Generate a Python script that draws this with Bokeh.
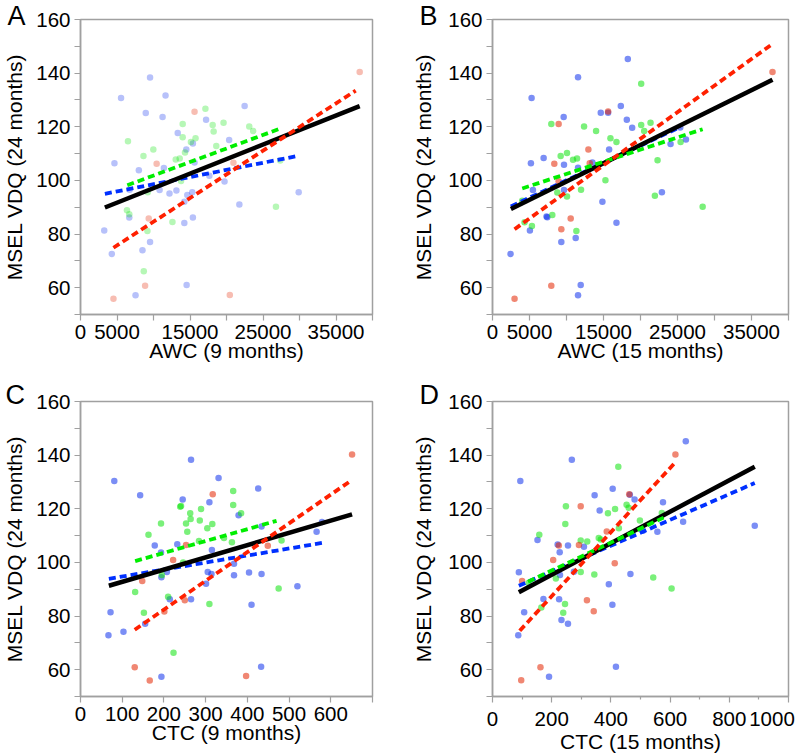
from bokeh.plotting import figure
from bokeh.models import Range1d, FixedTicker, NumeralTickFormatter
from bokeh.layouts import column, row
from bokeh.embed import file_html
from bokeh.resources import INLINE

FONT = "Liberation Sans"

# ---------------- data ----------------
y_ticks = [60, 80, 100, 120, 140, 160]
y_minor = [50, 70, 90, 110, 130, 150]

# Panel A: AWC (9 months)
a_blue_x = [9527, 5554, 11649, 8940, 11243, 22485, 17201, 13319, 20363, 15396, 14493, 4650, 7992, 11423,
            15622, 17653, 19730, 10836, 12190, 13138, 14628, 15306, 29889, 21762, 14222, 6682, 15396,
            14222, 3251, 9527, 8488, 4289, 14538, 7540, 6728]
a_blue_y = [138.4, 130.7, 131.7, 125.1, 123.6, 127.7, 122.6, 117.7, 115.1, 113.8, 111.5, 106.4, 103.8, 104.6,
            106.7, 101.7, 99.6, 96.4, 95.1, 96.2, 94.6, 95.6, 95.6, 91.0, 92.0, 86.2, 86.2,
            84.1, 81.3, 77.0, 74.0, 72.6, 61.0, 57.2, 96.5]
a_green_x = [17111, 13997, 18104, 19594, 18239, 23117, 23659, 13997, 15757, 15125, 6502, 9978, 18601,
             14313, 8624, 13590, 13048, 27361, 13771, 9211, 6367, 6682, 12596, 9166, 26774, 8669]
a_green_y = [126.7, 121.0, 120.7, 121.5, 118.2, 120.1, 118.4, 116.1, 115.7, 114.3, 114.6, 111.5, 112.8,
             110.4, 109.1, 108.2, 107.8, 107.4, 99.8, 95.6, 88.9, 87.4, 84.5, 81.1, 90.2, 66.1]
a_red_x = [38243, 15622, 10429, 20949, 9346, 8850, 4515, 20453]
a_red_y = [140.4, 125.6, 106.2, 106.6, 85.8, 60.7, 55.9, 57.3]
a_fit_x = {"all": [3341, 38243], "blue": [3341, 29889], "green": [6411, 27135], "red": [4515, 37700]}
a_fit_y = {"all": [89.9, 127.7], "blue": [95.0, 109.2], "green": [98.2, 119.1], "red": [74.9, 133.5]}

# Panel B: AWC (15 months)
b_blue_x = [18286, 11558, 5283, 9617, 14629, 15622, 17338, 18150, 18873, 15757, 6908, 5192, 9662, 11558,
            13500, 25374, 24065, 26142, 5463, 9662, 22891, 14854, 7405, 7300, 16751, 5057, 11242, 9301,
            2438, 11920, 11558]
b_blue_y = [145.3, 138.5, 130.7, 123.6, 125.2, 125.2, 127.7, 122.6, 119.6, 111.5, 108.4, 106.4, 105.8, 104.7,
            106.7, 119.7, 113.6, 115.3, 96.4, 96.4, 95.6, 92.0, 86.3, 86.5, 84.2, 81.3, 78.5, 77.0,
            72.6, 61.0, 57.2]
b_green_x = [20092, 7946, 12371, 13997, 20092, 21356, 20498, 15938, 16751, 25419, 9211, 10068, 10881,
             11423, 22304, 15261, 8759, 10068, 11965, 21943, 28399, 4018, 4334, 5328, 8082, 11333]
b_green_y = [136.0, 121.0, 120.1, 118.4, 120.7, 121.5, 118.4, 115.7, 114.3, 114.3, 109.1, 110.2, 107.7,
             108.2, 107.5, 100.1, 95.5, 94.0, 96.5, 94.3, 90.2, 92.4, 84.4, 83.0, 87.1, 81.1]
b_red_x = [37836, 15622, 8940, 12958, 8353, 13139, 8940, 10565, 9301, 7946, 2980]
b_red_y = [140.4, 125.7, 121.0, 111.5, 106.2, 106.4, 99.7, 85.8, 81.8, 60.7, 55.9]
b_fit_x = {"all": [2483, 37836], "blue": [2483, 25420], "green": [4018, 28399], "red": [2980, 37836]}
b_fit_y = {"all": [89.3, 137.5], "blue": [90.3, 120.0], "green": [97.0, 119.1], "red": [81.8, 150.9]}

# Panel C: CTC (9 months)
c_blue_x = [265, 81, 331, 426, 143, 245, 309, 379, 566, 579, 178, 193, 232, 315, 434, 207, 194, 305, 314,
            368, 404, 434, 368, 301, 520, 214, 265, 410, 72, 155, 103, 67, 433, 194]
c_blue_y = [138.3, 130.4, 131.5, 127.6, 125.0, 123.5, 122.4, 117.6, 111.4, 115.1, 106.3, 103.7, 106.8, 104.6,
            113.4, 96.4, 94.5, 96.4, 95.7, 95.2, 96.2, 95.7, 99.5, 92.0, 91.1, 86.3, 86.3, 84.2, 81.4,
            77.1, 74.1, 72.8, 61.1, 57.4]
c_green_x = [366, 239, 241, 263, 289, 366, 385, 264, 286, 193, 253, 316, 304, 256, 163, 344, 284, 363, 482,
             246, 195, 131, 210, 475, 152, 309, 223]
c_green_y = [126.6, 120.8, 121.0, 118.3, 119.9, 121.4, 118.3, 116.2, 115.6, 114.5, 114.5, 114.3, 112.7, 111.4,
             110.3, 109.1, 108.0, 107.5, 108.2, 100.0, 95.3, 89.0, 87.2, 90.3, 81.2, 84.5, 66.3]
c_red_x = [651, 317, 253, 222, 449, 148, 250, 201, 130, 166, 397]
c_red_y = [140.2, 125.4, 106.5, 100.9, 106.2, 93.1, 85.9, 81.7, 60.9, 56.0, 57.6]
c_fit_x = {"all": [68, 651], "blue": [68, 581], "green": [131, 470], "red": [130, 643]}
c_fit_y = {"all": [91.3, 117.9], "blue": [93.9, 107.3], "green": [100.5, 115.5], "red": [74.9, 129.9]}

# Panel D: CTC (15 months)
d_blue_x = [653, 268, 94, 406, 345, 464, 480, 576, 362, 644, 557, 886, 152, 220, 255, 227, 309, 89, 228,
            275, 466, 393, 172, 225, 405, 107, 233, 255, 87, 417, 191, 508]
d_blue_y = [145.2, 138.3, 130.4, 127.5, 125.0, 125.2, 123.5, 122.4, 119.4, 115.2, 111.4, 113.7, 108.4, 106.7,
            106.3, 103.8, 105.8, 96.3, 95.3, 96.5, 95.7, 91.9, 86.4, 86.3, 84.2, 81.4, 78.5, 77.1, 72.8,
            61.1, 57.4, 111.8]
d_green_x = [425, 248, 414, 453, 460, 390, 246, 158, 498, 427, 572, 298, 320, 359, 366, 344, 543, 605, 214,
             298, 165, 245, 239, 122]
d_green_y = [135.7, 120.9, 119.9, 121.5, 120.4, 118.3, 114.3, 110.3, 115.6, 112.7, 118.4, 108.2, 107.8, 109.1,
             108.5, 95.5, 94.4, 90.3, 94.0, 96.4, 83.2, 84.5, 81.2, 92.3]
d_red_x = [618, 462, 298, 386, 292, 224, 205, 413, 100, 319, 342, 162, 97]
d_red_y = [140.2, 125.4, 120.9, 111.5, 106.5, 106.3, 100.9, 99.7, 93.1, 85.9, 81.8, 60.9, 56.1]
d_fit_x = {"all": [89, 886], "blue": [89, 886], "green": [120, 582], "red": [92, 621]}
d_fit_y = {"all": [88.9, 135.7], "blue": [91.3, 129.6], "green": [92.8, 116.9], "red": [74.5, 137.7]}

# ---------------- styling ----------------
PT_COLORS = {"blue": "#0f32ed", "green": "#0de40d", "red": "#e42500"}
LN_COLORS = {"blue": "#0030ff", "green": "#00ee00", "red": "#ff2000"}
GRAY = "#a0a0a0"
Y_MIN, Y_MAX = 50, 160


def panel(letter, letter_offset, letter_standoff, xlabel, xmax, xticks, xminor, minor_out, overrides,
          pts, fits_x, fits_y, alpha, width, height, bl, br, bt, bb, ylab_standoff):
    p = figure(width=width, height=height, output_backend="svg", toolbar_location=None,
               title=letter,
               x_range=Range1d(0, xmax), y_range=Range1d(Y_MIN, Y_MAX),
               min_border_left=bl, min_border_right=br, min_border_top=bt, min_border_bottom=bb,
               background_fill_color="white", border_fill_color="white")
    # panel letter, pulled to the top-left corner of the canvas
    p.title.align = "left"
    p.title.vertical_align = "bottom"
    p.title.offset = letter_offset
    p.title.standoff = letter_standoff
    p.title.text_font = FONT
    p.title.text_font_size = "27px"
    p.title.text_font_style = "normal"
    p.title.text_color = "black"

    p.grid.visible = False
    p.outline_line_color = GRAY
    p.outline_line_width = 1.5

    p.xaxis.ticker = FixedTicker(ticks=xticks, minor_ticks=xminor)
    p.yaxis.ticker = FixedTicker(ticks=y_ticks, minor_ticks=y_minor)
    p.xaxis.formatter = NumeralTickFormatter(format="0")
    if overrides:
        p.xaxis.major_label_overrides = overrides
    p.xaxis.axis_label = xlabel
    p.yaxis.axis_label = "MSEL VDQ (24 months)"
    for ax in (p.xaxis[0], p.yaxis[0]):
        ax.axis_line_color = GRAY
        ax.axis_line_width = 1.5
        ax.major_tick_line_color = GRAY
        ax.minor_tick_line_color = GRAY
        ax.major_tick_line_width = 1.2
        ax.minor_tick_line_width = 1.2
        ax.major_tick_in = 0
        ax.minor_tick_in = 0
        ax.major_tick_out = 6
        ax.major_label_text_font = FONT
        ax.major_label_text_font_size = "20.5px"
        ax.major_label_text_color = "black"
        ax.axis_label_text_font = FONT
        ax.axis_label_text_font_size = "21px"
        ax.axis_label_text_font_style = "normal"
        ax.axis_label_text_color = "black"
        ax.major_label_standoff = 4
    p.yaxis.minor_tick_out = 6
    p.xaxis.minor_tick_out = minor_out
    p.yaxis.axis_label_standoff = ylab_standoff
    p.xaxis.axis_label_standoff = -3

    for key in ("blue", "green", "red"):
        xs, ys = pts[key]
        p.scatter(xs, ys, size=6.5, fill_color=PT_COLORS[key], fill_alpha=alpha, line_color=None)

    p.line(fits_x["blue"], fits_y["blue"], line_color=LN_COLORS["blue"], line_width=3.8, line_dash="7 4")
    p.line(fits_x["all"], fits_y["all"], line_color="black", line_width=4.5)
    p.line(fits_x["green"], fits_y["green"], line_color=LN_COLORS["green"], line_width=3.8, line_dash="7 4")
    p.line(fits_x["red"], fits_y["red"], line_color=LN_COLORS["red"], line_width=3.8, line_dash="7 4")
    return p


awc_ticks = [0, 5000, 15000, 25000, 35000]
awc_minor = [10000, 20000, 30000, 40000]

pA = panel("A", -73, -22, "AWC (9 months)", 40000, awc_ticks, awc_minor, 6, None,
           {"blue": (a_blue_x, a_blue_y), "green": (a_green_x, a_green_y), "red": (a_red_x, a_red_y)},
           a_fit_x, a_fit_y, 0.3, 400, 375, 76, 28, 19, 61, 7)
pB = panel("B", -73, -22, "AWC (15 months)", 40000, awc_ticks, awc_minor, 6, None,
           {"blue": (b_blue_x, b_blue_y), "green": (b_green_x, b_green_y), "red": (b_red_x, b_red_y)},
           b_fit_x, b_fit_y, 0.55, 400, 375, 92, 12, 19, 61, 10)
pC = panel("C", -75, -16, "CTC (9 months)", 700, [0, 100, 200, 300, 400, 500, 600], [700], 6, None,
           {"blue": (c_blue_x, c_blue_y), "green": (c_green_x, c_green_y), "red": (c_red_x, c_red_y)},
           c_fit_x, c_fit_y, 0.55, 400, 380, 76, 28, 26, 58, 7)
pD = panel("D", -73, -16, "CTC (15 months)", 1000, [0, 200, 400, 600, 800, 1000], [100, 300, 500, 700, 900], 3,
           {1000: "1000\u00a0"},
           {"blue": (d_blue_x, d_blue_y), "green": (d_green_x, d_green_y), "red": (d_red_x, d_red_y)},
           d_fit_x, d_fit_y, 0.55, 400, 380, 92, 12, 26, 58, 10)

layout = column(row(pA, pB, spacing=0), row(pC, pD, spacing=0), spacing=0)

with open("out.html", "w") as f:
    f.write(file_html(layout, INLINE))
